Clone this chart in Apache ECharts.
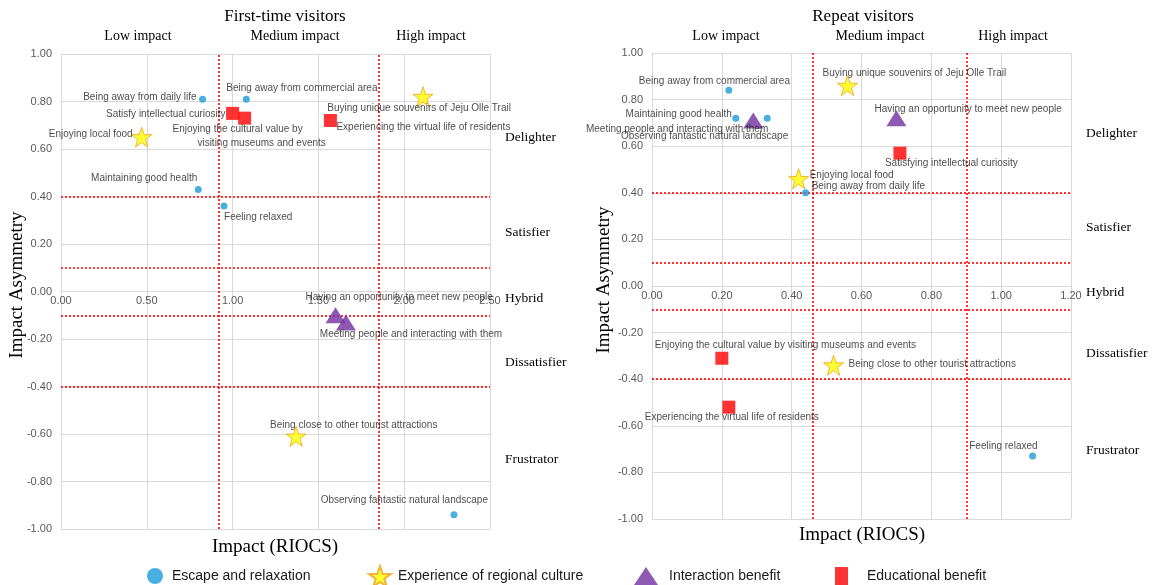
<!DOCTYPE html>
<html>
<head>
<meta charset="utf-8">
<script src="https://cdn.jsdelivr.net/npm/echarts@6/dist/echarts.min.js"></script>
<style>
  html, body { margin: 0; padding: 0; background: #fff; }
  #chart { width: 1153px; height: 585px; }
</style>
</head>
<body>
<div id="chart"></div>
<script>
// ---- Attribute groups ----
const groups = ['Escape and relaxation', 'Experience of regional culture', 'Interaction benefit', 'Educational benefit'];

// ---- First-time visitors: impact (RIOCS) and impact asymmetry ----
const firstEscapeNames = ['Being away from daily life', 'Being away from commercial area', 'Maintaining good health', 'Feeling relaxed', 'Observing fantastic natural landscape'];
const firstEscapeImpact = [0.825, 1.08, 0.80, 0.95, 2.29];
const firstEscapeAsym = [0.81, 0.81, 0.43, 0.36, -0.94];

const firstCultureNames = ['Buying unique souvenirs of Jeju Olle Trail', 'Enjoying local food', 'Being close to other tourist attractions'];
const firstCultureImpact = [2.11, 0.47, 1.37];
const firstCultureAsym = [0.82, 0.65, -0.61];

const firstInteractionNames = ['Having an opportunity to meet new people', 'Meeting people and interacting with them'];
const firstInteractionImpact = [1.60, 1.66];
const firstInteractionAsym = [-0.10, -0.13];

const firstEducationNames = ['Satisfy intellectual curiosity', 'Enjoying the cultural value by visiting museums and events', 'Experiencing the virtual life of residents'];
const firstEducationImpact = [1.00, 1.07, 1.57];
const firstEducationAsym = [0.75, 0.73, 0.72];

// ---- Repeat visitors ----
const repeatEscapeNames = ['Being away from commercial area', 'Maintaining good health', 'Observing fantastic natural landscape', 'Being away from daily life', 'Feeling relaxed'];
const repeatEscapeImpact = [0.22, 0.24, 0.33, 0.44, 1.09];
const repeatEscapeAsym = [0.84, 0.72, 0.72, 0.40, -0.73];

const repeatCultureNames = ['Buying unique souvenirs of Jeju Olle Trail', 'Enjoying local food', 'Being close to other tourist attractions'];
const repeatCultureImpact = [0.56, 0.42, 0.52];
const repeatCultureAsym = [0.86, 0.46, -0.34];

const repeatInteractionNames = ['Meeting people and interacting with them', 'Having an opportunity to meet new people'];
const repeatInteractionImpact = [0.29, 0.70];
const repeatInteractionAsym = [0.71, 0.72];

const repeatEducationNames = ['Satisfying intellectual curiosity', 'Enjoying the cultural value by visiting museums and events', 'Experiencing the virtual life of residents'];
const repeatEducationImpact = [0.71, 0.20, 0.22];
const repeatEducationAsym = [0.57, -0.31, -0.52];

// ---- Classification thresholds (dotted red lines) ----
const firstImpactCuts = [0.92, 1.85];
const repeatImpactCuts = [0.46, 0.90];
const asymCuts = [0.40, 0.10, -0.10, -0.40];

// ---- Axis scales and text ----
const firstImpactTicks = [0, 0.5, 1.0, 1.5, 2.0, 2.5];
const repeatImpactTicks = [0, 0.2, 0.4, 0.6, 0.8, 1.0, 1.2];
const asymTicks = [-1, -0.8, -0.6, -0.4, -0.2, 0, 0.2, 0.4, 0.6, 0.8, 1.0];
const impactLevels = ['Low impact', 'Medium impact', 'High impact'];
const zoneNames = ['Delighter', 'Satisfier', 'Hybrid', 'Dissatisfier', 'Frustrator'];
const chartTitles = ['First-time visitors', 'Repeat visitors'];

// ---- Label placement: [align, dx, dy] relative to the marker centre ----
const firstLabelPlace = {
  'Being away from daily life': ['right', -6, -2],
  'Being away from commercial area': ['left', -20, -11],
  'Maintaining good health': ['right', -1, -11],
  'Feeling relaxed': ['left', 0, 11],
  'Observing fantastic natural landscape': ['right', 34, -15],
  'Buying unique souvenirs of Jeju Olle Trail': ['center', -4, 11],
  'Enjoying local food': ['right', -9, -3],
  'Being close to other tourist attractions': ['left', -26, -11],
  'Having an opportunity to meet new people': ['left', -30, -18],
  'Meeting people and interacting with them': ['left', -26, 12],
  'Satisfy intellectual curiosity': ['right', -7, 1],
  'Enjoying the cultural value by visiting museums and events': ['center', 5, 18, 'split'],
  'Experiencing the virtual life of residents': ['left', 6, 7]
};
const repeatLabelPlace = {
  'Being away from commercial area': ['left', -90, -9],
  'Maintaining good health': ['right', -4, -4],
  'Observing fantastic natural landscape': ['right', 21, 18],
  'Being away from daily life': ['left', 6, -7],
  'Feeling relaxed': ['right', 5, -10],
  'Buying unique souvenirs of Jeju Olle Trail': ['left', -25, -12],
  'Enjoying local food': ['left', 11, -4],
  'Being close to other tourist attractions': ['left', 15, -1],
  'Meeting people and interacting with them': ['right', 15, 9],
  'Having an opportunity to meet new people': ['left', -22, -9],
  'Satisfying intellectual curiosity': ['left', -15, 10],
  'Enjoying the cultural value by visiting museums and events': ['left', -67, -13],
  'Experiencing the virtual life of residents': ['center', 3, 10]
};

const STAR = 'path://M50,2 L61.8,36.2 L97.6,36.2 L68.6,57.6 L79.4,92 L50,71 L20.6,92 L31.4,57.6 L2.4,36.2 L38.2,36.2 Z';
const SANS = '"Liberation Sans", Arial, sans-serif';
const SERIF = '"Liberation Serif", "Times New Roman", serif';

const markerStyles = [
  { symbol: 'circle', symbolSize: 7, itemStyle: { color: '#1e9ad9' } },
  { symbol: STAR, symbolSize: 20, itemStyle: { color: '#ffff00', borderColor: '#f0a020', borderWidth: 1 } },
  { symbol: 'triangle', symbolSize: [20, 16], itemStyle: { color: '#7030a0' } },
  { symbol: 'rect', symbolSize: 13, itemStyle: { color: '#ff0000' } }
];

function makePoints(names, xs, ys, place) {
  return names.map((n, i) => {
    const p = place[n] || ['left', 6, 0];
    const label = {
      show: true, position: 'inside', align: p[0], verticalAlign: 'middle',
      offset: [p[1], p[2]], color: '#1a1a1a', fontSize: 10, fontFamily: SANS,
      textBorderWidth: 0
    };
    if (p[3] === 'split') {
      label.formatter = '{a|Enjoying the cultural value by}\n{b|visiting museums and events}';
      label.lineHeight = 14;
      label.rich = {
        a: { padding: [0, 24, 0, 0], fontSize: 10, fontFamily: SANS, color: '#1a1a1a', lineHeight: 14 },
        b: { padding: [0, 0, 0, 24], fontSize: 10, fontFamily: SANS, color: '#1a1a1a', lineHeight: 14 }
      };
    } else {
      label.formatter = n;
    }
    return { name: n, value: [xs[i], ys[i]], label: label };
  });
}

function groupSeries(gi, axisIndex, names, xs, ys, place) {
  return Object.assign({
    type: 'scatter', name: groups[gi], xAxisIndex: axisIndex, yAxisIndex: axisIndex,
    z: 5, data: makePoints(names, xs, ys, place)
  }, markerStyles[gi]);
}

function cutLines(axisIndex, xCuts) {
  return {
    type: 'scatter', xAxisIndex: axisIndex, yAxisIndex: axisIndex, data: [], z: 2, silent: true,
    markLine: {
      silent: true, symbol: 'none', animation: false, label: { show: false },
      lineStyle: { color: '#ff0000', type: [2, 2], width: 1.6 },
      data: xCuts.map(v => ({ xAxis: v })).concat(asymCuts.map(v => ({ yAxis: v })))
    }
  };
}

const grids = [
  { left: 61, top: 54, width: 429, height: 475 },
  { left: 652, top: 53, width: 419, height: 466 }
];

const gridLine = { show: true, lineStyle: { color: '#d9d9d9', width: 1 } };
const tickText = { color: '#595959', fontSize: 11, fontFamily: SANS, formatter: v => v.toFixed(2) };

// The impact axis sits on the zero line of the asymmetry axis (range -1..1, so mid-height)
function xAxisFor(gi, ticks) {
  return {
    type: 'value', gridIndex: gi, min: ticks[0], max: ticks[ticks.length - 1],
    interval: ticks[1] - ticks[0],
    offset: -grids[gi].height / 2,
    axisLine: { show: true, onZero: false, lineStyle: { color: '#d9d9d9' } },
    axisTick: { show: false }, splitLine: gridLine,
    axisLabel: Object.assign({ margin: 4 }, tickText)
  };
}
function yAxisFor(gi) {
  return {
    type: 'value', gridIndex: gi, min: asymTicks[0], max: asymTicks[asymTicks.length - 1],
    interval: 0.2,
    axisLine: { show: false }, axisTick: { show: false }, splitLine: gridLine,
    axisLabel: Object.assign({ margin: 9 }, tickText)
  };
}

// ---- Static text: titles, impact levels, zones, axis names ----
function txt(x, y, text, font, extra) {
  return Object.assign({
    type: 'text', x: x, y: y, silent: true,
    style: { text: text, font: font, fill: '#000', align: 'center', verticalAlign: 'middle' }
  }, extra || {});
}
const levelX = [[138, 295, 431], [726, 880, 1013]];
const zoneY = [[137, 232, 298, 362, 459], [133, 227, 292, 353, 450]];
const zoneX = [505, 1086];
const graphics = [
  txt(285, 17, chartTitles[0], '17px ' + SERIF),
  txt(863, 17, chartTitles[1], '17px ' + SERIF),
  txt(275, 547, 'Impact (RIOCS)', '19px ' + SERIF),
  txt(862, 535, 'Impact (RIOCS)', '19px ' + SERIF),
  txt(17, 285, 'Impact Asymmetry', '19px ' + SERIF, { rotation: Math.PI / 2 }),
  txt(604, 280, 'Impact Asymmetry', '19px ' + SERIF, { rotation: Math.PI / 2 })
];
for (let c = 0; c < 2; c++) {
  impactLevels.forEach((t, i) => graphics.push(txt(levelX[c][i], 36, t, '14px ' + SERIF)));
  zoneNames.forEach((t, i) => {
    const g = txt(zoneX[c], zoneY[c][i], t, '13.5px ' + SERIF);
    g.style.align = 'left';
    graphics.push(g);
  });
}

// ---- Legends (one per group, laid out along the bottom) ----
const legendIcons = ['circle', STAR, 'triangle', 'rect'];
const legendBoxes = [[147, 16, 16, 4], [368, 22, 22, 2], [634, 24, 18, 6], [835, 13, 18, 14]];
const legends = groups.map((g, i) => ({
  data: [{ name: g, icon: legendIcons[i] }],
  left: legendBoxes[i][0], top: 576 - Math.max(legendBoxes[i][2], 16) / 2,
  itemWidth: legendBoxes[i][1], itemHeight: legendBoxes[i][2], padding: 0,
  selectedMode: false,
  textStyle: { fontSize: 14, fontFamily: SANS, color: '#1a1a1a', padding: [0, 0, 0, legendBoxes[i][3]] }
}));

const option = {
  animation: false,
  backgroundColor: '#ffffff',
  grid: grids,
  xAxis: [xAxisFor(0, firstImpactTicks), xAxisFor(1, repeatImpactTicks)],
  yAxis: [yAxisFor(0), yAxisFor(1)],
  legend: legends,
  graphic: graphics,
  series: [
    cutLines(0, firstImpactCuts),
    cutLines(1, repeatImpactCuts),
    groupSeries(0, 0, firstEscapeNames, firstEscapeImpact, firstEscapeAsym, firstLabelPlace),
    groupSeries(1, 0, firstCultureNames, firstCultureImpact, firstCultureAsym, firstLabelPlace),
    groupSeries(2, 0, firstInteractionNames, firstInteractionImpact, firstInteractionAsym, firstLabelPlace),
    groupSeries(3, 0, firstEducationNames, firstEducationImpact, firstEducationAsym, firstLabelPlace),
    groupSeries(0, 1, repeatEscapeNames, repeatEscapeImpact, repeatEscapeAsym, repeatLabelPlace),
    groupSeries(1, 1, repeatCultureNames, repeatCultureImpact, repeatCultureAsym, repeatLabelPlace),
    groupSeries(2, 1, repeatInteractionNames, repeatInteractionImpact, repeatInteractionAsym, repeatLabelPlace),
    groupSeries(3, 1, repeatEducationNames, repeatEducationImpact, repeatEducationAsym, repeatLabelPlace)
  ]
};

const chart = echarts.init(document.getElementById('chart'), null, { renderer: 'canvas' });
chart.setOption(option);
</script>
</body>
</html>
